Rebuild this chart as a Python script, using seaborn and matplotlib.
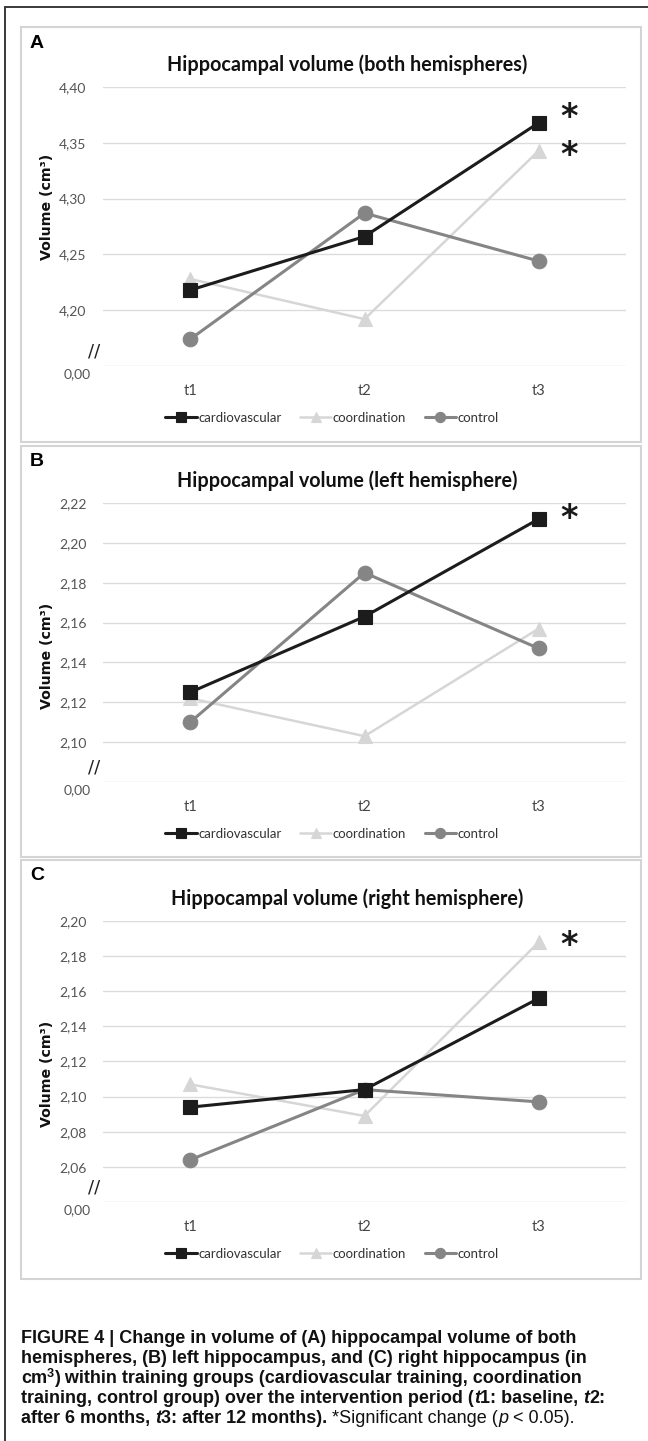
import matplotlib
matplotlib.use("Agg")
import matplotlib.pyplot as plt
import seaborn as sns
import pandas as pd
from matplotlib.patches import Rectangle
from matplotlib.lines import Line2D

sns.set_style("white")
plt.rcParams['font.family'] = ['Lato', 'DejaVu Sans']

# ---------------- data ----------------
times = ["t1", "t2", "t3"]
groups = ["cardiovascular", "coordination", "control"]

both_cardio = [4.218, 4.266, 4.368]
both_coord = [4.228, 4.192, 4.343]
both_control = [4.174, 4.287, 4.244]

left_cardio = [2.125, 2.163, 2.212]
left_coord = [2.122, 2.103, 2.157]
left_control = [2.110, 2.185, 2.147]

right_cardio = [2.094, 2.104, 2.156]
right_coord = [2.107, 2.089, 2.188]
right_control = [2.064, 2.104, 2.097]

titles = ["Hippocampal volume (both hemispheres)",
          "Hippocampal volume (left hemisphere)",
          "Hippocampal volume (right hemisphere)"]
panel_letters = ["A", "B", "C"]
yticks_A = [4.15, 4.20, 4.25, 4.30, 4.35, 4.40]
yticks_B = [2.08, 2.10, 2.12, 2.14, 2.16, 2.18, 2.20, 2.22]
yticks_C = [2.04, 2.06, 2.08, 2.10, 2.12, 2.14, 2.16, 2.18, 2.20]
ylabel = "Volume (cm³)"
# significance asterisks: (panel index, group)
sig_marks = [(0, "cardiovascular"), (0, "coordination"), (1, "cardiovascular"), (2, "coordination")]

# ---------------- styling ----------------
W, H = 648, 1441
fig = plt.figure(figsize=(W / 100, H / 100), dpi=100)
PT = 0.72  # points per pixel


def fx(x):
    return x / W


def fy(y):
    return 1 - y / H


styles = {
    "cardiovascular": dict(color="#1c1c1c", marker="s", lw=2.2, ms=10.5, zorder=5),
    "coordination": dict(color="#d6d6d6", marker="^", lw=1.8, ms=10.5, zorder=3),
    "control": dict(color="#858585", marker="o", lw=2.2, ms=10.5, zorder=4),
}
ast_offsets = {(0, "cardiovascular"): (30, -13), (0, "coordination"): (30, -3),
               (1, "cardiovascular"): (30, -8), (2, "coordination"): (30, -5)}

panels = [
    dict(data=[both_cardio, both_coord, both_control], yticks=yticks_A, box=(27, 442),
         ax=(87, 366), ylab_y=207),
    dict(data=[left_cardio, left_coord, left_control], yticks=yticks_B, box=(446, 857),
         ax=(503, 782), ylab_y=656),
    dict(data=[right_cardio, right_coord, right_control], yticks=yticks_C, box=(860, 1279),
         ax=(921, 1202), ylab_y=1074),
]

# outer frame (top and left edges)
fig.add_artist(Line2D([fx(5), fx(5)], [fy(7), 0], transform=fig.transFigure, color="#3a3a3a", lw=1.4))
fig.add_artist(Line2D([fx(5), 1], [fy(7), fy(7)], transform=fig.transFigure, color="#3a3a3a", lw=1.4))

for i, p in enumerate(panels):
    btop, bbot = p["box"]
    fig.add_artist(Rectangle((fx(21), fy(bbot)), fx(641) - fx(21), fy(btop) - fy(bbot),
                             transform=fig.transFigure, fill=False, edgecolor="#d4d4d4", lw=1.5))
    atop, abot = p["ax"]
    ax = fig.add_axes([fx(103), fy(abot), fx(626) - fx(103), fy(atop) - fy(abot)])
    for g, vals in zip(groups, p["data"]):
        st = styles[g]
        df = pd.DataFrame({"time": times, "volume": vals})
        sns.lineplot(data=df, x="time", y="volume", ax=ax, sort=False, color=st["color"],
                     marker=st["marker"], markersize=st["ms"], linewidth=st["lw"],
                     markeredgecolor=st["color"], markeredgewidth=0.8, zorder=st["zorder"],
                     label=g, legend=False)
    yt = p["yticks"]
    ax.set_xlim(-0.5, 2.5)
    ax.set_ylim(yt[0], yt[-1])
    ax.set_yticks(yt)
    labels = [f"{v:.2f}".replace(".", ",") for v in yt]
    labels[0] = ""
    ax.set_yticklabels(labels)
    ax.tick_params(axis="y", length=0, pad=12, labelsize=10, labelcolor="#555555")
    ax.tick_params(axis="x", length=0, pad=13, labelsize=10.5, labelcolor="#444444")
    ax.grid(axis="y", color="#dcdcdc", lw=1.0)
    ax.grid(axis="x", visible=False)
    for s in ax.spines.values():
        s.set_visible(False)
    ax.set_xlabel("")
    ax.set_ylabel("")
    # broken-axis "0,00" label and // marker
    ax.annotate("0,00", xy=(0, yt[0]), xycoords=("axes fraction", "data"),
                xytext=(-12 * PT, -8 * PT), textcoords="offset points",
                ha="right", va="center", fontsize=10, color="#555555")
    ax.annotate("//", xy=(0, yt[0]), xycoords=("axes fraction", "data"),
                xytext=(-9 * PT, 14 * PT), textcoords="offset points",
                ha="center", va="center", fontsize=13, color="#222222",
                family="DejaVu Sans")
    # asterisks
    for (pi, g) in sig_marks:
        if pi != i:
            continue
        v = p["data"][groups.index(g)][2]
        dx, dy = ast_offsets[(pi, g)]
        ax.annotate("*", xy=(2, v), xycoords="data", xytext=(dx * PT, -dy * PT - 8 * PT),
                    textcoords="offset points", ha="center", va="center",
                    fontsize=24, fontweight="bold", color="#1a1a1a", family="DejaVu Sans")
    # title, ylabel, panel letter
    fig.text(fx(347), fy(atop - 22), titles[i], ha="center", va="center",
             fontsize=14.2, fontweight="bold", color="#111111")
    fig.text(fx(47), fy(p["ylab_y"]), ylabel, ha="center", va="center", rotation=90,
             fontsize=10.2, fontweight="bold", color="#111111", family="DejaVu Sans")
    fig.text(fx(30), fy(btop + 16), panel_letters[i], ha="left", va="center",
             fontsize=14, fontweight="bold", color="#000000", family="Liberation Sans")
    # legend
    handles = ax.get_lines()[:3]
    leg = ax.legend(handles=handles, labels=groups, ncol=3, loc="center",
                    bbox_to_anchor=(fx(332), fy(abot + 52)), bbox_transform=fig.transFigure,
                    frameon=False, fontsize=9.5, handlelength=2.4, handletextpad=0.1,
                    columnspacing=1.4, markerscale=0.7)
    for t in leg.get_texts():
        t.set_color("#333333")

# ---------------- caption ----------------
cap_family = ['Liberation Sans']
cap_size = 13
cap_lines = [
    [("FIGURE 4 | Change in volume of (A) hippocampal volume of both", "bold", "normal", 0, 1.0)],
    [("hemispheres, (B) left hippocampus, and (C) right hippocampus (in", "bold", "normal", 0, 1.0)],
    [("cm", "bold", "normal", 0, 1.0), ("3", "bold", "normal", 6, 0.7),
     (") within training groups (cardiovascular training, coordination", "bold", "normal", 0, 1.0)],
    [("training, control group) over the intervention period (", "bold", "normal", 0, 1.0),
     ("t", "bold", "italic", 0, 1.0), ("1: baseline, ", "bold", "normal", 0, 1.0),
     ("t", "bold", "italic", 0, 1.0), ("2:", "bold", "normal", 0, 1.0)],
    [("after 6 months, ", "bold", "normal", 0, 1.0), ("t", "bold", "italic", 0, 1.0),
     ("3: after 12 months).", "bold", "normal", 0, 1.0),
     (" *Significant change (", "normal", "normal", 0, 1.0), ("p", "normal", "italic", 0, 1.0),
     (" < 0.05).", "normal", "normal", 0, 1.0)],
]
renderer = fig.canvas.get_renderer()
for li, pieces in enumerate(cap_lines):
    x = 21
    yb = 1343 + 20 * li
    for text, wt, sty, dy, scale in pieces:
        t = fig.text(fx(x), fy(yb + 0) + dy / H, text, ha="left", va="baseline",
                     fontsize=cap_size * scale, fontweight=wt, style=sty,
                     family=cap_family, color="#111111")
        bb = t.get_window_extent(renderer=renderer)
        x += bb.width

fig.savefig("out.png", dpi=100, facecolor="white")
